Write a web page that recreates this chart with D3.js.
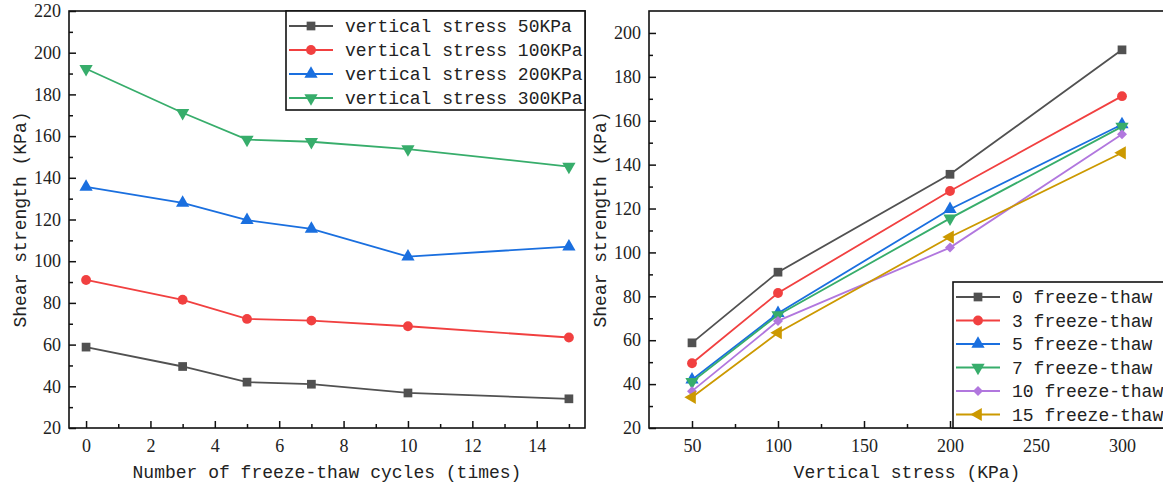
<!DOCTYPE html>
<html>
<head>
<meta charset="utf-8">
<script src="https://cdn.jsdelivr.net/npm/d3@7"></script>
<style>
body{margin:0;background:#fff;}
svg{display:block;}
.title,.legend text{font-family:"Liberation Mono",monospace;font-size:18px;fill:#222;}
</style>
</head>
<body>
<svg id="chart" width="1163" height="488"></svg>
<script>
// shear strength vs freeze-thaw cycles
var cycles = [0, 3, 5, 7, 10, 15];
var stresses = [50, 100, 200, 300];
var stress50 = [58.8, 49.5, 42, 41, 36.8, 34];
var stress100 = [91, 81.5, 72.3, 71.5, 68.8, 63.4];
var stress200 = [135.6, 128, 119.7, 115.5, 102.2, 107];
var stress300 = [192.3, 171.2, 158.3, 157.3, 153.8, 145.4];
var stressNames = ["vertical stress 50KPa", "vertical stress 100KPa", "vertical stress 200KPa", "vertical stress 300KPa"];
var cycleNames = ["0 freeze-thaw", "3 freeze-thaw", "5 freeze-thaw", "7 freeze-thaw", "10 freeze-thaw", "15 freeze-thaw"];

var leftXTicks = [0, 2, 4, 6, 8, 10, 12, 14];
var leftXMinor = [1, 3, 5, 7, 9, 11, 13, 15];
var leftYTicks = [20, 40, 60, 80, 100, 120, 140, 160, 180, 200, 220];
var leftYMinor = [30, 50, 70, 90, 110, 130, 150, 170, 190, 210];
var rightXTicks = [50, 100, 150, 200, 250, 300];
var rightXMinor = [75, 125, 175, 225, 275];
var rightYTicks = [20, 40, 60, 80, 100, 120, 140, 160, 180, 200];
var rightYMinor = [30, 50, 70, 90, 110, 130, 150, 170, 190];

var colors = ["#515151", "#F14040", "#1A6FDF", "#37AD6B", "#B177DE", "#CC9900"];
var shapes = [d3.symbolSquare, d3.symbolCircle, d3.symbolTriangle, d3.symbolTriangle, d3.symbolSquare, d3.symbolTriangle];
var sizes = [76, 76, 76, 76, 50, 76];
var turns = [0, 0, 0, 180, 45, -90];

var svg = d3.select("#chart");
var stressSeries = [stress50, stress100, stress200, stress300];

function marker(sel, i, cx, cy){
  sel.append("path")
    .attr("d", d3.symbol().type(shapes[i]).size(sizes[i])())
    .attr("transform", "translate(" + cx + "," + cy + ") rotate(" + turns[i] + ")")
    .attr("fill", colors[i]);
}

function panel(o){
  var x = d3.scaleLinear().domain(o.xDomain).range([o.left, o.right]);
  var y = d3.scaleLinear().domain(o.yDomain).range([o.bottom, o.top]);
  var g = svg.append("g");

  g.append("g").attr("transform", "translate(0," + o.bottom + ")")
    .call(d3.axisBottom(x).tickValues(o.xMinor).tickSize(-4).tickFormat(""));
  g.append("g").attr("transform", "translate(0," + o.bottom + ")")
    .call(d3.axisBottom(x).tickValues(o.xTicks).tickSize(-7).tickPadding(11));
  g.append("g").attr("transform", "translate(" + o.left + ",0)")
    .call(d3.axisLeft(y).tickValues(o.yMinor).tickSize(-4).tickFormat(""));
  g.append("g").attr("transform", "translate(" + o.left + ",0)")
    .call(d3.axisLeft(y).tickValues(o.yTicks).tickSize(-7).tickPadding(8));
  g.selectAll(".domain").remove();
  g.selectAll(".tick line").attr("stroke", "#111").attr("stroke-width", 1.5);
  g.selectAll(".tick text")
    .style("font-family", "'Liberation Serif', 'Times New Roman', serif")
    .style("font-size", "18px").attr("fill", "#222");

  g.append("rect")
    .attr("x", o.left).attr("y", o.top)
    .attr("width", o.right - o.left).attr("height", o.bottom - o.top)
    .attr("fill", "none").attr("stroke", "#111").attr("stroke-width", 1.6);

  var line = d3.line().x(function(d){ return x(d[0]); }).y(function(d){ return y(d[1]); });
  o.series.forEach(function(s, i){
    g.append("path").attr("d", line(s)).attr("fill", "none")
      .attr("stroke", colors[i]).attr("stroke-width", 1.8);
    s.forEach(function(d){ marker(g, i, x(d[0]), y(d[1])); });
  });

  // legend
  var lg = g.append("g").attr("class", "legend");
  lg.append("rect").attr("x", o.legend.x).attr("y", o.legend.y)
    .attr("width", o.legend.w).attr("height", o.legend.h)
    .attr("fill", "#fff").attr("stroke", "#111").attr("stroke-width", 1.6);
  o.names.forEach(function(n, i){
    var ry = o.legend.row0 + i * o.legend.step;
    var lx = o.legend.x + 3;
    lg.append("line").attr("x1", lx).attr("x2", lx + 44).attr("y1", ry).attr("y2", ry)
      .attr("stroke", colors[i]).attr("stroke-width", 1.8);
    marker(lg, i, lx + 22, ry);
    lg.append("text").attr("x", lx + 56).attr("y", ry).attr("dy", "0.35em").text(n);
  });

  g.append("text").attr("class", "title")
    .attr("transform", "translate(" + o.yTitleX + "," + (o.top + o.bottom) / 2 + ") rotate(-90)")
    .attr("text-anchor", "middle").attr("dy", "0.35em").text("Shear strength (KPa)");
  g.append("text").attr("class", "title")
    .attr("x", (o.left + o.right) / 2).attr("y", 472)
    .attr("text-anchor", "middle").attr("dy", "0.35em").text(o.xTitle);
}

panel({
  left: 69, right: 585, top: 11, bottom: 428,
  xDomain: [-0.53, 15.5], yDomain: [20, 220],
  xTicks: leftXTicks, xMinor: leftXMinor, yTicks: leftYTicks, yMinor: leftYMinor,
  series: stressSeries.map(function(s){ return s.map(function(v, j){ return [cycles[j], v]; }); }),
  names: stressNames,
  legend: {x: 286, y: 11, w: 299, h: 99, row0: 26, step: 24},
  yTitleX: 20,
  xTitle: "Number of freeze-thaw cycles (times)"
});

panel({
  left: 649, right: 1165, top: 11, bottom: 428,
  xDomain: [25, 325], yDomain: [20, 210],
  xTicks: rightXTicks, xMinor: rightXMinor, yTicks: rightYTicks, yMinor: rightYMinor,
  series: cycles.map(function(c, j){ return stressSeries.map(function(s, k){ return [stresses[k], s[j]]; }); }),
  names: cycleNames,
  legend: {x: 953, y: 282, w: 220, h: 146, row0: 297, step: 23.5},
  yTitleX: 600,
  xTitle: "Vertical stress (KPa)"
});
</script>
</body>
</html>
